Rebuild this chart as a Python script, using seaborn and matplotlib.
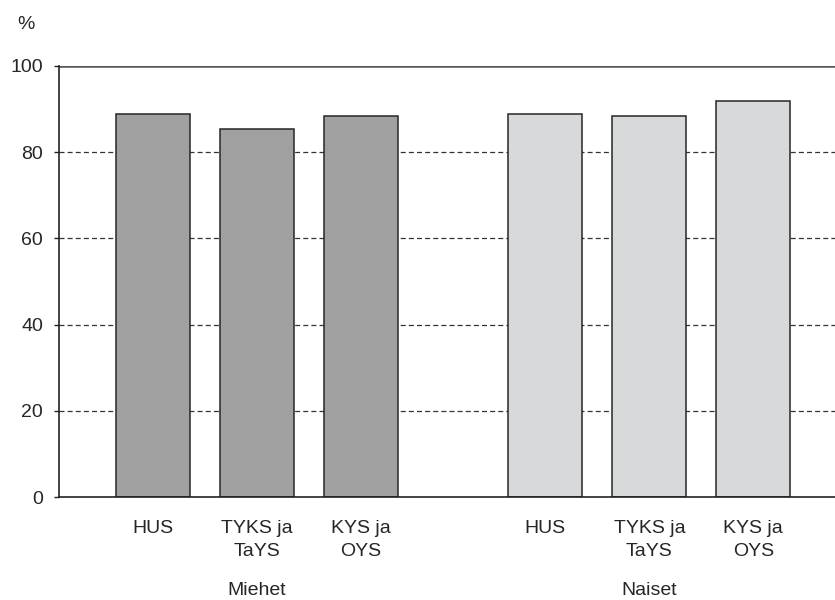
import matplotlib
matplotlib.use("Agg")
import matplotlib.pyplot as plt
import seaborn as sns
import pandas as pd

groups = ["Miehet", "Miehet", "Miehet", "Naiset", "Naiset", "Naiset"]
categories = ["HUS", "TYKS ja\nTaYS", "KYS ja\nOYS", "HUS", "TYKS ja\nTaYS", "KYS ja\nOYS"]
values = [88.9, 85.3, 88.4, 88.9, 88.4, 91.8]
positions = [0, 1, 2, 3.775, 4.775, 5.775]
group_names = ["Miehet", "Naiset"]
colors = {"Miehet": "#a0a0a1", "Naiset": "#d8d9da"}

df = pd.DataFrame({"pos": positions, "value": values, "group": groups, "cat": categories})

sns.set_style("white")
plt.rcParams["font.family"] = ["Liberation Sans", "DejaVu Sans"]

fig = plt.figure(figsize=(8.35, 6.0), dpi=100)
ax = fig.add_axes([59 / 835, 103 / 600, 1 - 59 / 835, (497 - 66) / 600])

for y in [20, 40, 60, 80]:
    ax.axhline(y, color="#333333", lw=0.9, ls=(0, (4, 2.5)), zorder=0)
ax.axhline(100, color="#555555", lw=1.8, zorder=0)

sns.barplot(data=df, x="pos", y="value", hue="group", palette=colors,
            native_scale=True, width=0.71, dodge=False, legend=False,
            edgecolor="#262626", linewidth=1.1, ax=ax, zorder=2)

ax.set_xlim(-0.9, 6.56)
ax.set_ylim(0, 100)
ax.set_xticks(positions)
ax.set_xticklabels(categories, fontsize=14, linespacing=1.45)
ax.set_yticks([0, 20, 40, 60, 80, 100])
ax.set_yticklabels(["0", "20", "40", "60", "80", "100"], fontsize=14)
ax.tick_params(axis="x", length=0, pad=16.5)
ax.tick_params(axis="y", length=3.6, width=1, pad=8, color="#222222", left=True)
ax.set_xlabel("")
ax.set_ylabel("")

for s in ["top", "right"]:
    ax.spines[s].set_visible(False)
ax.spines["left"].set_color("#222222")
ax.spines["bottom"].set_color("#222222")
ax.spines["left"].set_linewidth(1.2)
ax.spines["bottom"].set_linewidth(1.2)

for g in group_names:
    cx = sum(p for p, gg in zip(positions, groups) if gg == g) / 3
    ax.text(cx, -22.7, g, ha="center", va="baseline", fontsize=14,
            transform=ax.transData, clip_on=False)

fig.text(25.5 / 835, 1 - 24.5 / 600, "%", ha="center", va="center", fontsize=14)

fig.savefig("out.png", dpi=100)
